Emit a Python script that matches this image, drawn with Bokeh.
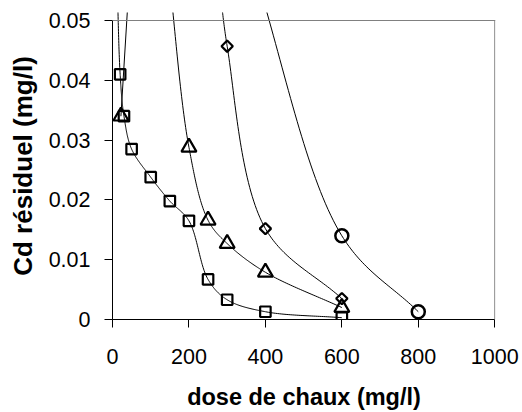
import numpy as np
from bokeh.plotting import figure
from bokeh.models import Range1d, FixedTicker, Span
from bokeh.embed import file_html
from bokeh.resources import INLINE

# ---- data ----
sq_dose = [20, 30, 50, 100, 150, 200, 250, 300, 400, 600]
sq_cd = [0.041, 0.034, 0.0285, 0.0238, 0.0198, 0.0165, 0.0067, 0.0033, 0.0013, 0.0003]
tri_dose = [22, 200, 250, 300, 400, 600]
tri_cd = [0.034, 0.0288, 0.0166, 0.0127, 0.0079, 0.0020]
dia_dose = [300, 400, 600]
dia_cd = [0.0457, 0.0152, 0.0035]
cir_dose = [600, 800]
cir_cd = [0.014, 0.0013]

# where each drawn curve comes in from above the chart (estimated)
sq_lead = (11, 0.06)
aux_curve_dose = [47, 22]
aux_curve_cd = [0.06, 0.034]
tri_lead = (144, 0.06)
dia_lead = (274, 0.06)
cir_lead = (363, 0.06)

x_ticks = [0, 200, 400, 600, 800, 1000]
x_tick_labels = ["0", "200", "400", "600", "800", "1000"]
y_ticks = [0, 0.01, 0.02, 0.03, 0.04, 0.05]
y_tick_labels = ["0", "0.01", "0.02", "0.03", "0.04", "0.05"]

x_title = "dose de chaux (mg/l)"
y_title = "Cd résiduel (mg/l)"


def smooth(xs, ys, n=40):
    """Centripetal Catmull-Rom through the points (computed in screen-like units)."""
    sx, sy = 382 / 1000, 299 / 0.05
    P = np.column_stack([np.asarray(xs, float) * sx, np.asarray(ys, float) * sy])
    if len(P) < 3:
        return list(xs), list(ys)
    P = np.vstack([2 * P[0] - P[1], P, 2 * P[-1] - P[-2]])
    out = []
    for i in range(1, len(P) - 2):
        p0, p1, p2, p3 = P[i - 1], P[i], P[i + 1], P[i + 2]
        t0 = 0.0
        t1 = t0 + np.linalg.norm(p1 - p0) ** 0.5
        t2 = t1 + np.linalg.norm(p2 - p1) ** 0.5
        t3 = t2 + np.linalg.norm(p3 - p2) ** 0.5
        t = np.linspace(t1, t2, n)[:, None]
        A1 = (t1 - t) / (t1 - t0) * p0 + (t - t0) / (t1 - t0) * p1
        A2 = (t2 - t) / (t2 - t1) * p1 + (t - t1) / (t2 - t1) * p2
        A3 = (t3 - t) / (t3 - t2) * p2 + (t - t2) / (t3 - t2) * p3
        B1 = (t2 - t) / (t2 - t0) * A1 + (t - t0) / (t2 - t0) * A2
        B2 = (t3 - t) / (t3 - t1) * A2 + (t - t1) / (t3 - t1) * A3
        C = (t2 - t) / (t2 - t1) * B1 + (t - t1) / (t2 - t1) * B2
        out.append(C if i == 1 else C[1:])
    C = np.vstack(out)
    return list(C[:, 0] / sx), list(C[:, 1] / sy)


p = figure(
    width=522, height=412,
    x_range=Range1d(0, 1002), y_range=Range1d(0, 0.05134),
    output_backend="svg", toolbar_location=None,
    min_border_left=112, min_border_right=27, min_border_top=12, min_border_bottom=93,
)
p.outline_line_color = None
p.xgrid.visible = False
p.ygrid.visible = False
p.background_fill_color = "white"
p.border_fill_color = "white"

FONT = "Liberation Sans"
for ax in (p.xaxis[0], p.yaxis[0]):
    ax.axis_line_color = "black"
    ax.axis_line_width = 1
    ax.major_tick_line_color = "black"
    ax.major_tick_out = 8
    ax.major_tick_in = 0
    ax.minor_tick_line_color = None
    ax.major_label_text_font = FONT
    ax.major_label_text_font_size = "21.5px"
    ax.major_label_text_color = "black"
    ax.axis_label_text_font = FONT
    ax.axis_label_text_font_style = "bold"
    ax.axis_label_text_color = "black"

p.xaxis.ticker = FixedTicker(ticks=x_ticks)
p.xaxis.major_label_overrides = dict(zip(x_ticks, x_tick_labels))
p.xaxis.bounds = (x_ticks[0], x_ticks[-1])
p.xaxis.axis_label = x_title
p.xaxis.axis_label_text_font_size = "23.5px"
p.xaxis.major_label_standoff = 21
p.xaxis.axis_label_standoff = 17

p.yaxis.ticker = FixedTicker(ticks=y_ticks)
p.yaxis.major_label_overrides = dict(zip(y_ticks, y_tick_labels))
p.yaxis.bounds = (y_ticks[0], y_ticks[-1])
p.yaxis.axis_label = y_title
p.yaxis.axis_label_text_font_size = "26px"
p.yaxis.major_label_standoff = 14
p.yaxis.axis_label_standoff = 8

# frame top & right borders (grey)
p.add_layout(Span(location=y_ticks[-1], dimension="width", line_color="#808080", line_width=1))
p.segment(x0=[x_ticks[-1]], y0=[y_ticks[0]], x1=[x_ticks[-1]], y1=[y_ticks[-1]],
          line_color="#808080", line_width=1)

# curves
curves = [
    ([sq_lead[0]] + sq_dose, [sq_lead[1]] + sq_cd),
    (aux_curve_dose, aux_curve_cd),
    ([tri_lead[0]] + tri_dose[1:], [tri_lead[1]] + tri_cd[1:]),
    ([dia_lead[0]] + dia_dose, [dia_lead[1]] + dia_cd),
    ([cir_lead[0]] + cir_dose, [cir_lead[1]] + cir_cd),
]
for cx, cy in curves:
    sx, sy = smooth(cx, cy)
    p.line(sx, sy, line_color="black", line_width=1)

# markers
p.scatter(sq_dose, sq_cd, marker="square", size=10.5, fill_color=None,
          line_color="black", line_width=2.2)
p.scatter(tri_dose, tri_cd, marker="triangle", size=15, fill_color=None,
          line_color="black", line_width=2.2)
p.scatter(dia_dose, dia_cd, marker="square", angle=np.pi / 4, size=8, fill_color=None,
          line_color="black", line_width=2.2)
p.scatter(cir_dose, cir_cd, marker="circle", size=13, fill_color=None,
          line_color="black", line_width=2.5)

open("out.html", "w").write(file_html(p, INLINE))
